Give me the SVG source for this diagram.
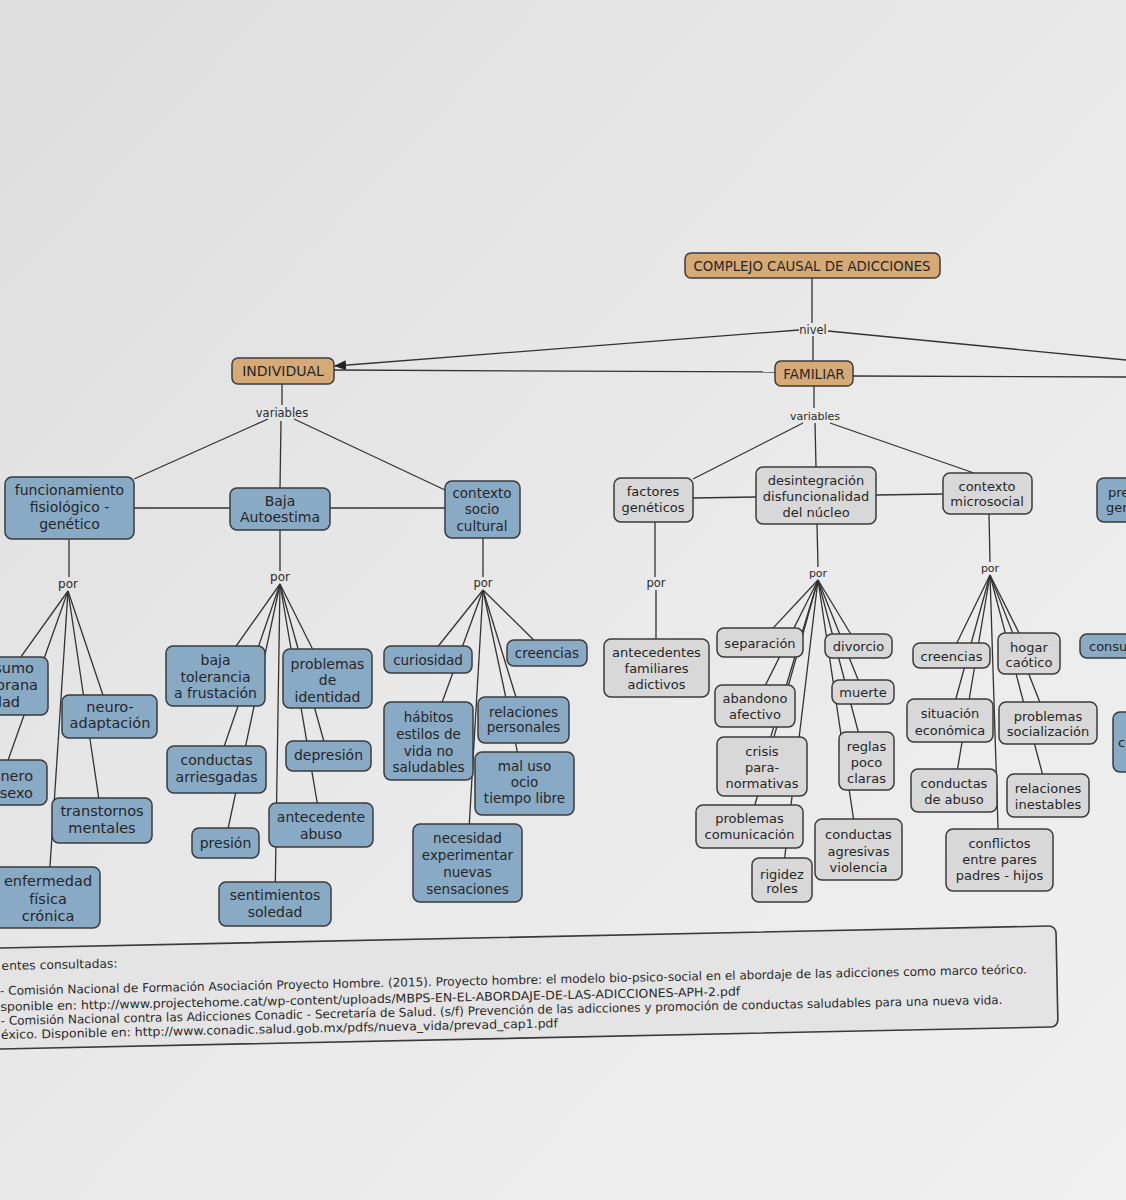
<svg xmlns="http://www.w3.org/2000/svg" width="1126" height="1200" viewBox="0 0 1126 1200">
<defs>
<linearGradient id="paper" x1="0" y1="0" x2="1" y2="1">
<stop offset="0" stop-color="#dedede"/>
<stop offset="0.5" stop-color="#e9e9e9"/>
<stop offset="1" stop-color="#f0f0f0"/>
</linearGradient>
<marker id="arrow" markerWidth="12" markerHeight="10" refX="11" refY="5" orient="auto" markerUnits="userSpaceOnUse">
<path d="M0,0 L12,5 L0,10 Z" fill="#222"/>
</marker>
<style>
.n rect{stroke:#3b3b3b;stroke-width:1.5}
.o rect{fill:#d6aa77}
.b rect{fill:#89aac5}
.g rect{fill:#d8d8d8}
.t{font-family:"DejaVu Sans",Verdana,sans-serif;fill:#262626;text-anchor:middle}
.s{text-anchor:start}
.e{text-anchor:end}
.f145{font-size:14.5px}
.f14{font-size:14px}
.f135{font-size:13.5px}
.f13{font-size:13px}
.c line{stroke:#333;stroke-width:1.3;fill:none}
.lbl{font-family:"DejaVu Sans",Verdana,sans-serif;font-size:11.5px;fill:#2a2a2a;text-anchor:middle}
.ft{font-family:"DejaVu Sans Condensed","DejaVu Sans",sans-serif;font-size:12px;fill:#2a2a2a}
</style>
</defs>
<rect x="0" y="0" width="1126" height="1200" fill="url(#paper)"/>

<g id="connectors" class="c">
<line x1="812" y1="278" x2="812" y2="323"/>
<line x1="813" y1="336" x2="813" y2="361"/>
<line x1="799" y1="330" x2="335" y2="366" marker-end="url(#arrow)"/>
<line x1="828" y1="331" x2="1126" y2="360"/>
<line x1="334" y1="370" x2="775" y2="372"/>
<line x1="853" y1="376" x2="1126" y2="377"/>
<line x1="282" y1="384" x2="282" y2="405"/>
<line x1="268" y1="419" x2="134" y2="479"/>
<line x1="281" y1="421" x2="280" y2="488"/>
<line x1="294" y1="419" x2="445" y2="490"/>
<line x1="134" y1="508" x2="230" y2="508"/>
<line x1="330" y1="508" x2="445" y2="508"/>
<line x1="814" y1="386" x2="814" y2="408"/>
<line x1="803" y1="423" x2="693" y2="479"/>
<line x1="815" y1="423" x2="816" y2="467"/>
<line x1="830" y1="423" x2="974" y2="473"/>
<line x1="693" y1="498" x2="756" y2="497"/>
<line x1="876" y1="495" x2="943" y2="494"/>
<line x1="69" y1="539" x2="69" y2="577"/>
<line x1="280" y1="530" x2="280" y2="571"/>
<line x1="483" y1="538" x2="483" y2="577"/>
<line x1="655" y1="522" x2="655" y2="577"/>
<line x1="817" y1="524" x2="818" y2="567"/>
<line x1="989" y1="514" x2="990" y2="562"/>
<line x1="656" y1="590" x2="656" y2="639"/>
<!-- funcionamiento children -->
<line x1="68" y1="591" x2="0" y2="686"/>
<line x1="68" y1="591" x2="0" y2="783"/>
<line x1="68" y1="591" x2="48" y2="897"/>
<line x1="68" y1="591" x2="110" y2="716"/>
<line x1="68" y1="591" x2="102" y2="820"/>
<!-- baja autoestima children -->
<line x1="280" y1="584" x2="215" y2="676"/>
<line x1="280" y1="584" x2="216" y2="770"/>
<line x1="280" y1="584" x2="225" y2="843"/>
<line x1="280" y1="584" x2="327" y2="678"/>
<line x1="280" y1="584" x2="328" y2="756"/>
<line x1="280" y1="584" x2="321" y2="825"/>
<line x1="280" y1="584" x2="275" y2="903"/>
<!-- contexto socio cultural children -->
<line x1="483" y1="590" x2="428" y2="659"/>
<line x1="483" y1="590" x2="547" y2="653"/>
<line x1="483" y1="590" x2="428" y2="741"/>
<line x1="483" y1="590" x2="523" y2="720"/>
<line x1="483" y1="590" x2="524" y2="783"/>
<line x1="483" y1="590" x2="467" y2="863"/>
<!-- desintegracion children -->
<line x1="818" y1="580" x2="760" y2="642"/>
<line x1="818" y1="580" x2="858" y2="646"/>
<line x1="818" y1="580" x2="755" y2="706"/>
<line x1="818" y1="580" x2="863" y2="692"/>
<line x1="818" y1="580" x2="762" y2="766"/>
<line x1="818" y1="580" x2="866" y2="761"/>
<line x1="818" y1="580" x2="749" y2="826"/>
<line x1="818" y1="580" x2="858" y2="849"/>
<line x1="818" y1="580" x2="782" y2="880"/>
<!-- microsocial children -->
<line x1="990" y1="575" x2="951" y2="655"/>
<line x1="990" y1="575" x2="1029" y2="653"/>
<line x1="990" y1="575" x2="950" y2="720"/>
<line x1="990" y1="575" x2="1048" y2="723"/>
<line x1="990" y1="575" x2="954" y2="790"/>
<line x1="990" y1="575" x2="1048" y2="795"/>
<line x1="990" y1="575" x2="999" y2="860"/>
</g>

<g id="labels">
<text class="lbl" x="813" y="334">nivel</text>
<text class="lbl" x="282" y="417">variables</text>
<text class="lbl" x="815" y="420" style="font-size:11px">variables</text>
<text class="lbl" x="68" y="588" style="font-size:12px">por</text>
<text class="lbl" x="280" y="581" style="font-size:12px">por</text>
<text class="lbl" x="483" y="587">por</text>
<text class="lbl" x="656" y="587">por</text>
<text class="lbl" x="818" y="577" style="font-size:11px">por</text>
<text class="lbl" x="990" y="572" style="font-size:11px">por</text>
</g>

<g id="n_root" class="n o"><rect x="685" y="253" width="255" height="25" rx="6"/><text class="t" style="font-size:13.3px" x="812" y="270.5">COMPLEJO CAUSAL DE ADICCIONES</text></g>
<g id="n_individual" class="n o"><rect x="232" y="358" width="102" height="26" rx="6"/><text class="t f14" x="283" y="376">INDIVIDUAL</text></g>
<g id="n_familiar" class="n o"><rect x="775" y="361" width="78" height="25" rx="6"/><text class="t f135" x="814" y="378.5">FAMILIAR</text></g>

<g id="n_funcionamiento" class="n b"><rect x="5" y="477" width="129" height="62" rx="7"/><text class="t f14"><tspan x="69.5" y="495">funcionamiento</tspan><tspan x="69.5" y="512">fisiológico -</tspan><tspan x="69.5" y="529">genético</tspan></text></g>
<g id="n_baja_autoestima" class="n b"><rect x="230" y="488" width="100" height="42" rx="7"/><text class="t f14"><tspan x="280" y="506">Baja</tspan><tspan x="280" y="522">Autoestima</tspan></text></g>
<g id="n_contexto_sociocultural" class="n b"><rect x="445" y="481" width="75" height="57" rx="7"/><text class="t f135"><tspan x="482" y="498">contexto</tspan><tspan x="482" y="514">socio</tspan><tspan x="482" y="531">cultural</tspan></text></g>
<g id="n_factores" class="n g"><rect x="614" y="478" width="79" height="44" rx="7"/><text class="t f13"><tspan x="653" y="496">factores</tspan><tspan x="653" y="512">genéticos</tspan></text></g>
<g id="n_desintegracion" class="n g"><rect x="756" y="467" width="120" height="57" rx="7"/><text class="t f13"><tspan x="816" y="485">desintegración</tspan><tspan x="816" y="501">disfuncionalidad</tspan><tspan x="816" y="517">del núcleo</tspan></text></g>
<g id="n_microsocial" class="n g"><rect x="943" y="473" width="89" height="41" rx="7"/><text class="t f13"><tspan x="987" y="491">contexto</tspan><tspan x="987" y="506">microsocial</tspan></text></g>
<g id="n_pregen" class="n b"><rect x="1097" y="478" width="50" height="44" rx="7"/><text class="t f13 s"><tspan x="1108" y="497">pre</tspan><tspan x="1106" y="512">gen</tspan></text></g>

<g id="n_consumo" class="n b"><rect x="-50" y="657" width="98" height="58" rx="7"/><text class="t f145 e"><tspan x="34" y="673">sumo</tspan><tspan x="38" y="690">prana</tspan><tspan x="20" y="707">dad</tspan></text></g>
<g id="n_neuro" class="n b"><rect x="62" y="695" width="95" height="43" rx="7"/><text class="t f145"><tspan x="110" y="712">neuro-</tspan><tspan x="110" y="728">adaptación</tspan></text></g>
<g id="n_genero" class="n b"><rect x="-50" y="760" width="97" height="45" rx="7"/><text class="t f145 e"><tspan x="33" y="781">nero</tspan><tspan x="33" y="798">sexo</tspan></text></g>
<g id="n_transtornos" class="n b"><rect x="52" y="798" width="100" height="45" rx="7"/><text class="t f145"><tspan x="102" y="816">transtornos</tspan><tspan x="102" y="833">mentales</tspan></text></g>
<g id="n_enfermedad" class="n b"><rect x="-6" y="867" width="106" height="61" rx="7"/><text class="t f145"><tspan x="48" y="886">enfermedad</tspan><tspan x="48" y="904">física</tspan><tspan x="48" y="921">crónica</tspan></text></g>

<g id="n_baja_tolerancia" class="n b"><rect x="166" y="646" width="99" height="60" rx="7"/><text class="t f14"><tspan x="215.5" y="665">baja</tspan><tspan x="215.5" y="682">tolerancia</tspan><tspan x="215.5" y="698">a frustación</tspan></text></g>
<g id="n_identidad" class="n b"><rect x="283" y="649" width="89" height="59" rx="7"/><text class="t f14"><tspan x="327.5" y="669">problemas</tspan><tspan x="327.5" y="685">de</tspan><tspan x="327.5" y="702">identidad</tspan></text></g>
<g id="n_arriesgadas" class="n b"><rect x="167" y="746" width="99" height="47" rx="7"/><text class="t f14"><tspan x="216.5" y="765">conductas</tspan><tspan x="216.5" y="782">arriesgadas</tspan></text></g>
<g id="n_depresion" class="n b"><rect x="286" y="741" width="85" height="30" rx="7"/><text class="t f14" x="328.5" y="760">depresión</text></g>
<g id="n_presion" class="n b"><rect x="192" y="828" width="67" height="30" rx="7"/><text class="t f14" x="225.5" y="848">presión</text></g>
<g id="n_antecedente_abuso" class="n b"><rect x="269" y="803" width="104" height="44" rx="7"/><text class="t f14"><tspan x="321" y="822">antecedente</tspan><tspan x="321" y="839">abuso</tspan></text></g>
<g id="n_soledad" class="n b"><rect x="219" y="882" width="112" height="44" rx="7"/><text class="t f14"><tspan x="275" y="900">sentimientos</tspan><tspan x="275" y="917">soledad</tspan></text></g>

<g id="n_curiosidad" class="n b"><rect x="384" y="646" width="88" height="27" rx="7"/><text class="t f135" x="428" y="665">curiosidad</text></g>
<g id="n_creencias_sc" class="n b"><rect x="507" y="640" width="80" height="26" rx="7"/><text class="t f135" x="547" y="658">creencias</text></g>
<g id="n_habitos" class="n b"><rect x="384" y="702" width="89" height="78" rx="7"/><text class="t f135"><tspan x="428.5" y="722">hábitos</tspan><tspan x="428.5" y="739">estilos de</tspan><tspan x="428.5" y="756">vida no</tspan><tspan x="428.5" y="772">saludables</tspan></text></g>
<g id="n_relaciones_personales" class="n b"><rect x="478" y="697" width="91" height="46" rx="7"/><text class="t f135"><tspan x="523.5" y="717">relaciones</tspan><tspan x="523.5" y="732">personales</tspan></text></g>
<g id="n_mal_uso" class="n b"><rect x="475" y="752" width="99" height="63" rx="7"/><text class="t f135"><tspan x="524.5" y="771">mal uso</tspan><tspan x="524.5" y="787">ocio</tspan><tspan x="524.5" y="803">tiempo libre</tspan></text></g>
<g id="n_necesidad" class="n b"><rect x="413" y="824" width="109" height="78" rx="7"/><text class="t f135"><tspan x="467.5" y="843">necesidad</tspan><tspan x="467.5" y="860">experimentar</tspan><tspan x="467.5" y="877">nuevas</tspan><tspan x="467.5" y="894">sensaciones</tspan></text></g>

<g id="n_antecedentes_familiares" class="n g"><rect x="604" y="639" width="105" height="58" rx="7"/><text class="t f13"><tspan x="656.5" y="657">antecedentes</tspan><tspan x="656.5" y="673">familiares</tspan><tspan x="656.5" y="689">adictivos</tspan></text></g>

<g id="n_separacion" class="n g"><rect x="717" y="628" width="86" height="29" rx="7"/><text class="t f13" x="760" y="648">separación</text></g>
<g id="n_divorcio" class="n g"><rect x="825" y="634" width="67" height="24" rx="7"/><text class="t f13" x="858.5" y="651">divorcio</text></g>
<g id="n_abandono" class="n g"><rect x="715" y="685" width="80" height="42" rx="7"/><text class="t f13"><tspan x="755" y="703">abandono</tspan><tspan x="755" y="719">afectivo</tspan></text></g>
<g id="n_muerte" class="n g"><rect x="832" y="680" width="62" height="24" rx="7"/><text class="t f13" x="863" y="697">muerte</text></g>
<g id="n_crisis" class="n g"><rect x="717" y="737" width="90" height="59" rx="7"/><text class="t f13"><tspan x="762" y="756">crisis</tspan><tspan x="762" y="772">para-</tspan><tspan x="762" y="788">normativas</tspan></text></g>
<g id="n_reglas" class="n g"><rect x="839" y="732" width="55" height="58" rx="7"/><text class="t f13"><tspan x="866.5" y="751">reglas</tspan><tspan x="866.5" y="767">poco</tspan><tspan x="866.5" y="783">claras</tspan></text></g>
<g id="n_comunicacion" class="n g"><rect x="696" y="805" width="107" height="43" rx="7"/><text class="t f13"><tspan x="749.5" y="823">problemas</tspan><tspan x="749.5" y="839">comunicación</tspan></text></g>
<g id="n_agresivas" class="n g"><rect x="815" y="819" width="87" height="61" rx="7"/><text class="t f13"><tspan x="858.5" y="839">conductas</tspan><tspan x="858.5" y="856">agresivas</tspan><tspan x="858.5" y="872">violencia</tspan></text></g>
<g id="n_rigidez" class="n g"><rect x="752" y="858" width="60" height="44" rx="7"/><text class="t f13"><tspan x="782" y="879">rigidez</tspan><tspan x="782" y="893">roles</tspan></text></g>

<g id="n_creencias_ms" class="n g"><rect x="913" y="643" width="77" height="25" rx="7"/><text class="t f13" x="951.5" y="661">creencias</text></g>
<g id="n_hogar" class="n g"><rect x="998" y="633" width="62" height="41" rx="7"/><text class="t f13"><tspan x="1029" y="652">hogar</tspan><tspan x="1029" y="667">caótico</tspan></text></g>
<g id="n_situacion" class="n g"><rect x="907" y="699" width="86" height="43" rx="7"/><text class="t f13"><tspan x="950" y="718">situación</tspan><tspan x="950" y="735">económica</tspan></text></g>
<g id="n_socializacion" class="n g"><rect x="999" y="702" width="98" height="42" rx="7"/><text class="t f13"><tspan x="1048" y="721">problemas</tspan><tspan x="1048" y="736">socialización</tspan></text></g>
<g id="n_conductas_abuso" class="n g"><rect x="911" y="769" width="86" height="43" rx="7"/><text class="t f13"><tspan x="954" y="788">conductas</tspan><tspan x="954" y="804">de abuso</tspan></text></g>
<g id="n_inestables" class="n g"><rect x="1007" y="774" width="82" height="43" rx="7"/><text class="t f13"><tspan x="1048" y="793">relaciones</tspan><tspan x="1048" y="809">inestables</tspan></text></g>
<g id="n_conflictos" class="n g"><rect x="946" y="829" width="107" height="62" rx="7"/><text class="t f13"><tspan x="999.5" y="848">conflictos</tspan><tspan x="999.5" y="864">entre pares</tspan><tspan x="999.5" y="880">padres - hijos</tspan></text></g>

<g id="n_consu" class="n b"><rect x="1080" y="634" width="60" height="24" rx="7"/><text class="t f13 s" x="1089" y="651">consu</text></g>
<g id="n_c" class="n b"><rect x="1113" y="712" width="30" height="60" rx="7"/><text class="t f13 s" x="1118" y="747">c</text></g>

<g id="footer" transform="rotate(-1.2 0 990)">
<rect x="-20" y="948" width="1077" height="101" rx="7" fill="#e4e4e4" stroke="#3a3a3a" stroke-width="1.6"/>
<text class="ft" x="2" y="970" textLength="116" lengthAdjust="spacingAndGlyphs">entes consultadas:</text>
<text class="ft" x="0" y="995" textLength="1027" lengthAdjust="spacingAndGlyphs">- Comisión Nacional de Formación Asociación Proyecto Hombre. (2015). Proyecto hombre: el modelo bio-psico-social en el abordaje de las adicciones como marco teórico.</text>
<text class="ft" x="0" y="1011" textLength="740" lengthAdjust="spacingAndGlyphs">sponible en: http://www.projectehome.cat/wp-content/uploads/MBPS-EN-EL-ABORDAJE-DE-LAS-ADICCIONES-APH-2.pdf</text>
<text class="ft" x="0" y="1025" textLength="1002" lengthAdjust="spacingAndGlyphs">- Comisión Nacional contra las Adicciones Conadic - Secretaría de Salud. (s/f) Prevención de las adicciones y promoción de conductas saludables para una nueva vida.</text>
<text class="ft" x="0" y="1039" textLength="557" lengthAdjust="spacingAndGlyphs">éxico. Disponible en: http://www.conadic.salud.gob.mx/pdfs/nueva_vida/prevad_cap1.pdf</text>
</g>
</svg>
